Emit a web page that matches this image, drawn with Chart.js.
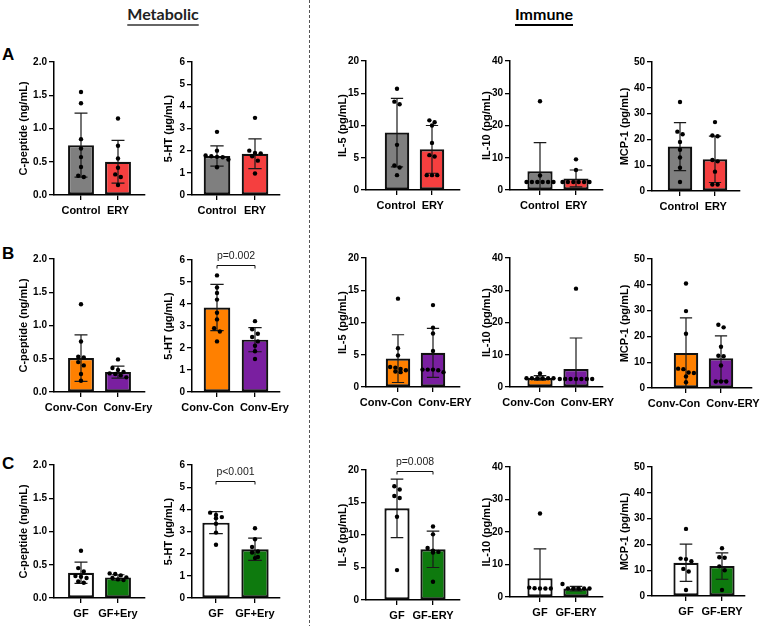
<!DOCTYPE html>
<html>
<head>
<meta charset="utf-8">
<script src="https://cdn.jsdelivr.net/npm/chart.js@4.4.1/dist/chart.umd.min.js"></script>
<style>
  html, body { margin: 0; padding: 0; background: #fff; }
  #fig { position: relative; width: 760px; height: 626px; overflow: hidden; font-family: "Liberation Sans", Arial, sans-serif; }
  #fig canvas { position: absolute; }
  .hdr { position: absolute; top: 5px; font-family: Lato, "Open Sans", sans-serif; font-weight: 700; font-size: 16px; line-height: 18px; text-decoration: underline; text-underline-offset: 4px; transform: translateX(-50%); white-space: nowrap; }
  .lbl { position: absolute; font-weight: 700; font-size: 17px; line-height: 17px; }
  #divider { position: absolute; left: 309px; top: 0; width: 1px; height: 626px; background: repeating-linear-gradient(to bottom, #555 0 3px, transparent 3px 5px); }
</style>
</head>
<body>
<div id="fig">
  <div class="hdr" style="left:163px;color:#222;text-decoration-color:#666;text-decoration-thickness:2px">Metabolic</div>
  <div class="hdr" style="left:544px;text-decoration-thickness:1.5px">Immune</div>
  <div id="divider"></div>
  <div class="lbl" style="left:2px;top:46px">A</div>
  <div class="lbl" style="left:2px;top:245px">B</div>
  <div class="lbl" style="left:2px;top:455px">C</div>
</div>
<script>
// y-axis measures, one per column
const measures = ['C-peptide (ng/mL)', '5-HT (µg/mL)', 'IL-5 (pg/mL)', 'IL-10 (pg/mL)', 'MCP-1 (pg/mL)'];
const yMax = [2, 6, 20, 40, 50];
const yStep = [0.5, 1, 5, 10, 10];

// group names per row / column
const labelsA = [['Control', 'ERY'], ['Control', 'ERY'], ['Control', 'ERY'], ['Control', 'ERY'], ['Control', 'ERY']];
const labelsB = [['Conv-Con', 'Conv-Ery'], ['Conv-Con', 'Conv-Ery'], ['Conv-Con', 'Conv-ERY'], ['Conv-Con', 'Conv-ERY'], ['Conv-Con', 'Conv-ERY']];
const labelsC = [['GF', 'GF+Ery'], ['GF', 'GF+Ery'], ['GF', 'GF-ERY'], ['GF', 'GF-ERY'], ['GF', 'GF-ERY']];

// row A: Control vs ERY
const meansA = [[0.75, 0.50], [1.76, 1.86], [8.9, 6.3], [5.8, 3.6], [17.2, 12.3]];
const sdA = [[0.48, 0.32], [0.46, 0.67], [5.3, 3.7], [8.9, 2.6], [9.3, 9.0]];
const pointsA = [
    [[1.55, 1.38, 0.84, 0.70, 0.57, 0.42, 0.29, 0.27], [1.15, 0.74, 0.55, 0.41, 0.31, 0.27, 0.15]],
    [[2.85, 2.0, 1.78, 1.75, 1.72, 1.70, 1.60, 1.25], [3.48, 2.0, 1.9, 1.88, 1.75, 1.55, 0.97]],
    [[15.7, 13.7, 13.3, 7.0, 3.8, 3.5, 2.3], [10.8, 10.5, 10.0, 7.3, 5.4, 5.2, 2.3, 2.3, 2.3]],
    [[27.5, 4.5, 2.5, 2.5, 2.5, 2.5, 2.5, 2.5], [9.5, 6.2, 2.5, 2.5, 2.5, 2.5, 2.5, 2.5]],
    [[34.5, 23, 22, 19, 16, 13, 9, 3.5], [26.7, 21.5, 21.2, 12, 11.5, 7.5, 2.5, 2.5]]
];

// row B: Conv-Con vs Conv-Ery
const meansB = [[0.51, 0.30], [3.84, 2.38], [4.4, 5.3], [2.8, 5.6], [13.6, 11.5]];
const sdB = [[0.35, 0.09], [1.05, 0.55], [3.7, 3.8], [0.7, 9.6], [13.6, 8.7]];
const pointsB = [
    [[1.32, 0.76, 0.53, 0.52, 0.45, 0.40, 0.27, 0.17], [0.49, 0.36, 0.33, 0.30, 0.28, 0.27, 0.25, 0.22]],
    [[5.3, 4.75, 4.5, 4.2, 3.6, 3.3, 2.9, 2.75, 2.3], [3.22, 2.85, 2.65, 2.5, 2.3, 2.1, 1.85, 1.5]],
    [[13.7, 6.0, 4.9, 3.1, 3.0, 2.8, 2.6, 2.4, 2.3], [12.7, 9.2, 8.3, 5.6, 2.7, 2.7, 2.7, 2.6, 2.3]],
    [[4.2, 2.7, 2.7, 2.7, 2.7, 2.7, 2.7], [30.5, 2.5, 2.5, 2.5, 2.5, 2.5, 2.5, 2.5]],
    [[40.5, 29.8, 21, 7.5, 7.3, 6.0, 5.8, 4.5, 2.2], [24.5, 23.5, 16, 12.5, 12.3, 8.7, 2.5, 2.5, 2.5]]
];

// row C: GF vs GF+Ery
const meansC = [[0.38, 0.31], [3.4, 2.2], [14.1, 7.8], [5.8, 2.6], [12.9, 11.6]];
const sdC = [[0.16, 0.04], [0.5, 0.5], [4.5, 2.8], [9.0, 0.7], [7.2, 5.1]];
const pointsC = [
    [[0.71, 0.45, 0.40, 0.33, 0.32, 0.30, 0.25, 0.23], [0.37, 0.36, 0.34, 0.31, 0.30, 0.28, 0.27]],
    [[3.85, 3.75, 3.65, 3.6, 3.35, 2.95, 2.4], [3.15, 2.65, 2.3, 2.1, 2.05, 1.85, 1.8]],
    [[17.5, 17.0, 16.0, 15.7, 12.8, 4.6], [11.3, 10.1, 8.0, 7.6, 7.4, 7.3, 2.8]],
    [[25.7, 2.9, 2.7, 2.6, 2.6, 2.6], [4.0, 2.6, 2.6, 2.6, 2.6, 2.6]],
    [[26, 14.5, 14.3, 13.5, 10.5, 9.5, 2.3], [18.5, 15, 14.8, 11.5, 10, 2.3]]
];

// significance brackets
const sigText = ['p=0.002', 'p<0.001', 'p=0.008'];
const sigRow = ['B', 'C', 'C'];
const sigCol = [1, 1, 2];
const sigLevel = [5.77, 5.28, 19.85];

// bar colours per row
const fillA = ['#7f7f7f', '#f53f3f'];
const fillB = ['#ff8000', '#7a1fa0'];
const fillC = ['#ffffff', '#0e7a0e'];

// layout: [y-axis x, bar0 centre, bar1 centre, axis end, top, bottom]
const geom = {
    A: [[54, 81, 118, 145, 62, 195], [192, 217, 255, 280, 62, 195], [366, 397, 432, 460, 61, 190], [510, 540, 576, 603, 61, 190], [652, 680, 715, 740, 62, 191]],
    B: [[54, 81, 118, 145, 259, 392], [192, 217, 255, 280, 260, 392], [366, 398, 433, 460, 258, 387], [510, 540, 576, 603, 258, 387], [652, 686, 721, 752, 259, 388]],
    C: [[54, 81, 118, 145, 465, 598], [192, 216, 255, 280, 465, 598], [366, 397, 433, 460, 470, 600], [510, 540, 576, 603, 467, 597], [652, 686, 722, 745, 467, 596]]
};
const titleOff = [30, 23, 23, 23, 27];

const rows = {
    A: { labels: labelsA, means: meansA, sd: sdA, points: pointsA, fill: fillA },
    B: { labels: labelsB, means: meansB, sd: sdB, points: pointsB, fill: fillB },
    C: { labels: labelsC, means: meansC, sd: sdC, points: pointsC, fill: fillC }
};

Chart.defaults.font.family = '"Liberation Sans", Arial, sans-serif';

// spread dots that sit at nearly the same height
function spread(vals, top) {
    const thr = top * 0.035;
    const xs = new Array(vals.length).fill(0);
    const used = new Array(vals.length).fill(false);
    for (let i = 0; i < vals.length; i++) {
        if (used[i]) continue;
        const grp = [];
        for (let j = i; j < vals.length; j++) {
            if (!used[j] && Math.abs(vals[j] - vals[i]) < thr) { grp.push(j); used[j] = true; }
        }
        grp.forEach((j, k) => { xs[j] = (k - (grp.length - 1) / 2) * 0.15; });
    }
    return xs;
}

const errorBars = {
    id: 'errorBars',
    afterDatasetDraw(chart, args, opts) {
        if (args.index !== 0) return;
        const { ctx, scales: { x, y } } = chart;
        ctx.save();
        ctx.strokeStyle = '#1a1a1a';
        ctx.lineWidth = 1.2;
        opts.means.forEach((m, i) => {
            const cx = x.getPixelForValue(i);
            const half = args.meta.data[i].width / 4;
            const low = m - opts.sd[i];
            const hi = y.getPixelForValue(m + opts.sd[i]);
            const lo = y.getPixelForValue(Math.max(low, 0));
            ctx.beginPath();
            ctx.moveTo(cx, hi); ctx.lineTo(cx, lo);
            ctx.moveTo(cx - half, hi); ctx.lineTo(cx + half, hi);
            if (low > 0) { ctx.moveTo(cx - half, lo); ctx.lineTo(cx + half, lo); }
            ctx.stroke();
        });
        ctx.restore();
    }
};

const groupTicks = {
    id: 'groupTicks',
    afterDraw(chart, args, opts) {
        const { ctx, scales: { x, y }, chartArea } = chart;
        const p0 = x.getPixelForValue(0), p1 = x.getPixelForValue(1);
        ctx.save();
        ctx.fillStyle = '#000';
        ctx.textAlign = 'center';
        ctx.font = 'bold 11px "Liberation Sans"';
        ctx.textBaseline = 'alphabetic';
        const w0 = ctx.measureText(opts.labels[0]).width;
        const w1 = ctx.measureText(opts.labels[1]).width;
        const push = Math.max(0, (w0 / 2 + w1 / 2 + 6 - (p1 - p0)) / 2);
        ctx.fillText(opts.labels[0], p0 - push, chartArea.bottom + 19);
        ctx.fillText(opts.labels[1], p1 + push, chartArea.bottom + 19);
        if (opts.sig) {
            const by = Math.round(y.getPixelForValue(opts.sig.level)) + 0.5;
            ctx.strokeStyle = '#111';
            ctx.lineWidth = 1;
            ctx.beginPath();
            ctx.moveTo(p0, by + 3); ctx.lineTo(p0, by); ctx.lineTo(p1, by); ctx.lineTo(p1, by + 3);
            ctx.stroke();
            ctx.font = '10.5px "Liberation Sans"';
            ctx.fillStyle = '#222';
            ctx.textBaseline = 'middle';
            ctx.fillText(opts.sig.text, (p0 + p1) / 2, by - 9);
        }
        ctx.restore();
    }
};

const PADL = 50, PADT = 24, PADR = 24, XH = 26;
const fig = document.getElementById('fig');

function makePanel(rowKey, col) {
    const r = rows[rowKey];
    const [axis, b0, b1, right, top, bottom] = geom[rowKey][col];
    const sp = b1 - b0;
    const w = right - axis + PADL + PADR;
    const h = PADT + bottom - top + XH;
    const cv = document.createElement('canvas');
    cv.width = w; cv.height = h;
    cv.style.width = w + 'px'; cv.style.height = h + 'px';
    cv.style.left = (axis - PADL) + 'px';
    cv.style.top = (top - PADT) + 'px';
    fig.appendChild(cv);

    const means = r.means[col];
    const pts = [];
    r.points[col].forEach((vals, g) => {
        const jit = spread(vals, yMax[col]);
        vals.forEach((v, i) => pts.push({ x: g + jit[i], y: v }));
    });

    let sig = null;
    sigText.forEach((t, i) => {
        if (sigRow[i] === rowKey && sigCol[i] === col) sig = { text: t, level: sigLevel[i] };
    });

    const axisGrid = { drawOnChartArea: false, drawTicks: true, tickLength: 5, color: '#000', lineWidth: 1.3, offset: false };

    new Chart(cv, {
        type: 'bar',
        data: {
            datasets: [
                {
                    type: 'bar',
                    data: means.map((m, i) => ({ x: i, y: m })),
                    backgroundColor: r.fill,
                    borderColor: '#111',
                    borderWidth: 2.2,
                    borderSkipped: false,
                    barPercentage: 0.7,
                    categoryPercentage: 1,
                    order: 2
                },
                {
                    type: 'scatter',
                    data: pts,
                    pointRadius: 2.2,
                    pointBackgroundColor: '#000',
                    pointBorderWidth: 0,
                    order: 1
                }
            ]
        },
        options: {
            responsive: false,
            animation: false,
            devicePixelRatio: 1,
            layout: { padding: { top: PADT, right: PADR, left: 0, bottom: 0 } },
            plugins: {
                legend: { display: false },
                tooltip: { enabled: false },
                errorBars: { means: means, sd: r.sd[col] },
                groupTicks: { labels: r.labels[col], sig: sig }
            },
            scales: {
                x: {
                    type: 'linear',
                    offset: false,
                    min: -(b0 - axis) / sp,
                    max: 1 + (right - b1) / sp,
                    grid: axisGrid,
                    border: { color: '#000', width: 1.5 },
                    ticks: { display: false },
                    afterBuildTicks: s => { s.ticks = [{ value: 0 }, { value: 1 }]; },
                    afterFit: s => { s.height = XH; }
                },
                y: {
                    min: 0,
                    max: yMax[col],
                    grid: axisGrid,
                    border: { color: '#000', width: 1.5 },
                    ticks: {
                        stepSize: yStep[col],
                        color: '#000',
                        padding: 2,
                        font: { size: 10, weight: 'bold' },
                        callback: v => col === 0 ? v.toFixed(1) : v
                    },
                    title: {
                        display: true,
                        text: measures[col],
                        color: '#000',
                        font: { size: 11, weight: 'bold' },
                        padding: { top: PADL - titleOff[col] - 6.6, bottom: 0 }
                    },
                    afterFit: s => { s.width = PADL; }
                }
            }
        },
        plugins: [errorBars, groupTicks]
    });
}

['A', 'B', 'C'].forEach(k => {
    for (let c = 0; c < 5; c++) makePanel(k, c);
});
</script>
</body>
</html>
